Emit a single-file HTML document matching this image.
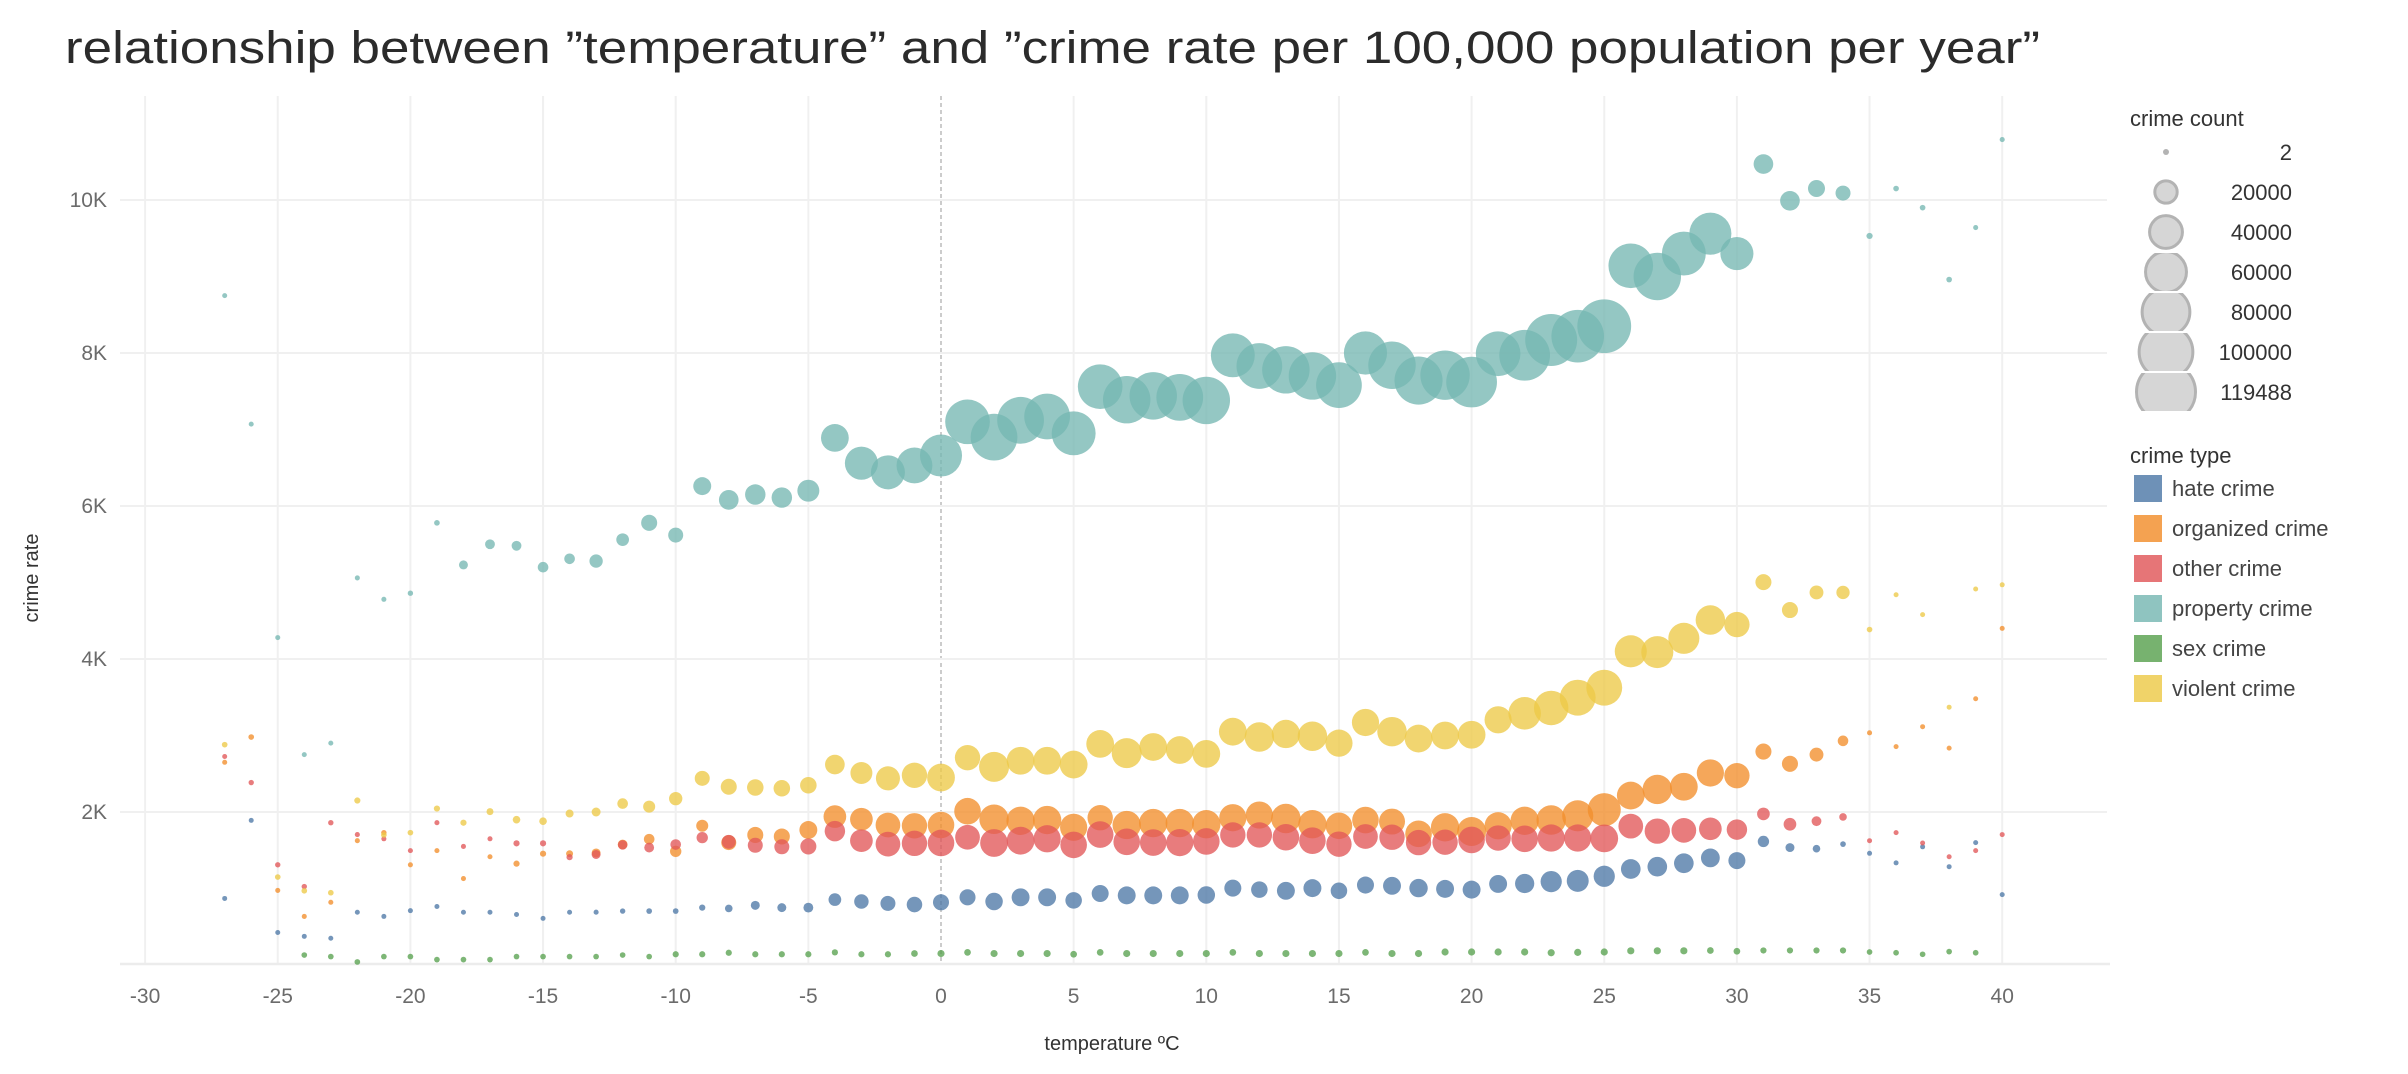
<!DOCTYPE html>
<html><head><meta charset="utf-8"><style>
html,body{margin:0;padding:0;background:#fff;}
svg{display:block;font-family:"Liberation Sans",sans-serif;}
</style></head><body>
<svg id="chart" width="2408" height="1074" viewBox="0 0 2408 1074" xmlns="http://www.w3.org/2000/svg">
<text x="65" y="63" font-size="45" fill="#2b2b2b" textLength="1975" lengthAdjust="spacingAndGlyphs">relationship between  ”temperature” and ”crime rate per 100,000 population per year”</text>
<g id="grid"></g>
<g id="axes"></g>
<g id="marks"></g>
<text transform="translate(38,578) rotate(-90)" text-anchor="middle" font-size="20" fill="#333">crime rate</text>
<text x="1112" y="1050" text-anchor="middle" font-size="20" fill="#333">temperature ºC</text>
<g id="legend"></g>
</svg>
<script>
const temps = [-27,-26,-25,-24,-23,-22,-21,-20,-19,-18,-17,-16,-15,-14,-13,-12,-11,-10,-9,-8,-7,-6,-5,-4,-3,-2,-1,0,1,2,3,4,5,6,7,8,9,10,11,12,13,14,15,16,17,18,19,20,21,22,23,24,25,26,27,28,29,30,31,32,33,34,35,36,37,38,39,40];
const xTicks = [-30,-25,-20,-15,-10,-5,0,5,10,15,20,25,30,35,40];
const yTicks = [2000,4000,6000,8000,10000];
const yTickLabels = ["2K","4K","6K","8K","10K"];
const seriesNames = ["hate crime","organized crime","other crime","property crime","sex crime","violent crime"];
const sizeLegendValues = [2,20000,40000,60000,80000,100000,119488];

const hateRate = [870,1890,425,375,350,690,635,710,765,690,690,660,610,690,690,705,705,705,750,740,780,750,750,855,830,805,790,820,885,830,885,885,845,935,910,910,910,915,1005,985,970,1005,970,1045,1035,1005,995,985,1060,1065,1090,1100,1160,1255,1285,1330,1400,1365,1615,1535,1520,1580,1460,1335,1545,1285,1600,920];
const hateCount = [600,700,700,700,700,700,700,600,600,600,600,700,600,600,800,900,1000,1000,1200,1800,2500,2500,3000,5000,6500,7000,7500,8000,8000,9500,10000,10000,8500,9000,10000,10000,10000,9500,9000,8500,10000,10000,8500,9000,10000,10500,10000,10000,10000,11500,14000,15000,14000,12000,12000,12000,11000,9000,4000,2500,1800,1000,400,400,400,400,400,400];

const orgRate = [2650,2980,975,635,820,1625,1730,1310,1495,1130,1415,1325,1455,1455,1465,1575,1645,1485,1820,1600,1700,1680,1765,1940,1905,1830,1820,1830,2010,1905,1885,1895,1800,1925,1830,1855,1855,1840,1925,1960,1915,1840,1820,1895,1875,1715,1800,1745,1820,1885,1895,1950,2030,2215,2295,2330,2510,2475,2790,2630,2750,2930,3035,2855,3115,2835,3480,4400];
const orgCount = [800,1000,800,800,800,800,900,800,800,800,800,1200,1200,1500,2500,3000,3500,4000,4500,7000,8000,8000,10000,16000,16000,19000,20000,22000,22000,27000,25000,25000,23000,20000,25000,25000,25000,25000,23000,23000,27000,25000,22000,22000,21000,22000,25000,26000,23000,25000,27000,30000,34000,24000,27000,24000,23000,20000,8000,8000,6000,3500,800,600,600,600,600,600];

const otherRate = [2725,2385,1310,1025,1860,1705,1650,1495,1860,1550,1650,1590,1590,1410,1445,1570,1535,1575,1665,1610,1565,1545,1550,1750,1625,1580,1590,1595,1670,1595,1625,1650,1570,1705,1610,1600,1600,1615,1700,1700,1670,1625,1580,1680,1670,1600,1605,1635,1660,1650,1660,1660,1655,1815,1750,1760,1780,1770,1975,1840,1880,1935,1625,1730,1595,1415,1495,1705];
const otherCount = [700,900,900,900,900,800,800,800,800,800,800,1200,1200,1200,2500,2800,3000,3500,4000,6000,7000,7000,8000,13000,16000,19000,20000,22000,19000,24000,24000,23000,22000,22000,22000,22000,23000,22000,20000,20000,22000,22000,20000,19000,20000,20000,20000,22000,20000,22000,23000,23000,24000,19000,20000,19000,16000,13000,5000,5000,3000,1800,600,600,600,600,600,600];

const propRate = [8750,7070,4280,2750,2900,5060,4780,4860,5780,5230,5500,5480,5200,5310,5280,5560,5780,5620,6260,6080,6150,6110,6200,6890,6560,6440,6530,6660,7100,6900,7120,7170,6950,7560,7390,7440,7420,7380,7970,7830,7780,7700,7580,8000,7840,7640,7710,7620,7990,7970,8170,8220,8350,9140,9000,9300,9560,9300,10470,9990,10150,10090,9530,10150,9900,8960,9640,10790];
const propCount = [600,600,700,700,700,800,800,900,1000,2500,3000,3000,3500,3500,5500,5000,8000,7000,10000,12000,13000,13000,15000,24000,34000,36000,40000,55000,62000,68000,68000,65000,60000,62000,70000,70000,68000,70000,60000,65000,70000,70000,65000,58000,70000,72000,76000,80000,62000,80000,84000,86000,90000,62000,70000,60000,55000,34000,12000,12000,9000,7000,1200,1000,1000,1000,800,800];

const sexRate = [null,null,null,130,110,40,110,110,70,70,70,110,110,110,110,130,110,140,140,160,140,140,140,165,140,140,150,150,165,150,150,150,140,165,150,150,150,150,165,150,150,150,150,165,150,150,170,170,170,170,160,165,170,185,185,185,190,180,190,190,190,190,170,160,140,175,160,null];
const sexCount = [1000,1000,1000,1000,1000,1000,1000,1000,1000,1000,1000,1000,1000,1000,1000,1000,1000,1200,1200,1200,1200,1200,1200,1200,1200,1200,1400,1600,1400,1600,1600,1600,1400,1400,1600,1600,1600,1600,1400,1600,1600,1600,1600,1400,1600,1600,1600,1600,1600,1600,1600,1600,1600,1600,1600,1600,1400,1400,1200,1200,1200,1200,1000,1000,1000,1000,1000,1000];

const violRate = [2880,null,1150,970,945,2150,1700,1730,2045,1860,2005,1900,1880,1980,2000,2110,2070,2175,2440,2330,2320,2310,2350,2620,2510,2440,2480,2450,2710,2590,2670,2670,2620,2890,2770,2850,2810,2760,3050,2980,3020,2990,2900,3170,3050,2960,3000,3010,3205,3290,3360,3495,3625,4100,4090,4270,4510,4450,5005,4640,4870,4870,4385,4840,4580,3370,4915,4970];
const violCount = [1000,1000,1000,1000,1000,1200,1000,1000,1200,1200,1500,1800,1800,2000,2500,3500,4500,5500,7000,8000,8500,8500,8500,12000,15000,18000,20000,24000,20000,28000,24000,24000,24000,24000,28000,24000,24000,24000,24000,27000,25000,27000,23000,23000,27000,24000,24000,24000,23000,33000,37000,40000,40000,32000,32000,30000,27000,20000,8000,8000,6000,5500,1000,600,600,700,600,600];

const NS="http://www.w3.org/2000/svg";
const colors=["#4e79a7","#f28e2b","#e15759","#76b7b2","#59a14f","#edc948"];
const rates=[hateRate,orgRate,otherRate,propRate,sexRate,violRate];
const counts=[hateCount,orgCount,otherCount,propCount,sexCount,violCount];
const PL=120,PR=2107,PT=96,PB=964;
function xs(t){return 941+t*26.53;}
function ys(v){return 965-v*0.0765;}
function rs(c){return Math.max(2.5,31*Math.sqrt(c/119488));}
function mk(tag,attrs,parent){const e=document.createElementNS(NS,tag);for(const k in attrs)e.setAttribute(k,attrs[k]);parent.appendChild(e);return e;}

const grid=document.getElementById('grid');
xTicks.forEach(t=>{
  if(t===0){
    const l=mk('line',{x1:xs(t),x2:xs(t),y1:PT,y2:PB,stroke:'#aaa','stroke-width':1.2,'stroke-dasharray':'4,3'},grid);
    
    
  } else {
    const l=mk('line',{x1:xs(t),x2:xs(t),y1:PT,y2:PB,stroke:'#f0f0f0','stroke-width':2},grid);
    
    
  }
});
yTicks.forEach(v=>{
  const l=mk('line',{x1:PL,x2:PR,y1:ys(v),y2:ys(v),stroke:'#f0f0f0','stroke-width':2},grid);
  
  
});
const base=mk('line',{x1:PL,x2:PR+3,y1:PB,y2:PB,stroke:'#ececec','stroke-width':2.5},grid);



const axes=document.getElementById('axes');
xTicks.forEach(t=>{
  const tx=mk('text',{x:xs(t),y:1003,'text-anchor':'middle','font-size':21,fill:'#6b6b6b'},axes);
  tx.textContent=String(t);
  
  
});
yTicks.forEach((v,i)=>{
  const tx=mk('text',{x:107,y:ys(v)+7,'text-anchor':'end','font-size':21,fill:'#6b6b6b'},axes);
  tx.textContent=yTickLabels[i];
  
  
});

const marks=document.getElementById('marks');
rates.forEach((arr,s)=>{
  const g=mk('g',{},marks);
  
  
  arr.forEach((v,i)=>{
    if(v===null)return;
    const c=mk('circle',{cx:xs(temps[i]),cy:ys(v),r:rs(counts[s][i]),fill:colors[s],'fill-opacity':0.78},g);
    
    
  });
});

const lg=document.getElementById('legend');
const t1=mk('text',{x:2130,y:126,'font-size':22,fill:'#333'},lg);
t1.textContent='crime count';


sizeLegendValues.forEach((v,i)=>{
  const cy=152+i*40;
  const cp=mk('clipPath',{id:'cl'+i},lg);
  mk('rect',{x:2120,y:cy-19,width:100,height:38},cp);
  const c=mk('circle',{cx:2166,cy:cy,r:Math.max(3,rs(v)-1.5),fill:'#d6d6d6',stroke:'#b3b3b3','stroke-width':v<10?0:3,'clip-path':'url(#cl'+i+')'},lg);
  if(v<10)c.setAttribute('fill','#b3b3b3');
  
  
  const tx=mk('text',{x:2292,y:cy+8,'text-anchor':'end','font-size':22,fill:'#333'},lg);
  tx.textContent=String(v);
  
  
});
const t2=mk('text',{x:2130,y:463,'font-size':22,fill:'#333'},lg);
t2.textContent='crime type';


seriesNames.forEach((n,i)=>{
  const y=475+i*40;
  const r=mk('rect',{x:2134,y:y,width:28,height:27,fill:colors[i],'fill-opacity':0.82},lg);
  
  
  const tx=mk('text',{x:2172,y:y+21,'font-size':22,fill:'#444'},lg);
  tx.textContent=n;
  
  
});
</script>
</body></html>
